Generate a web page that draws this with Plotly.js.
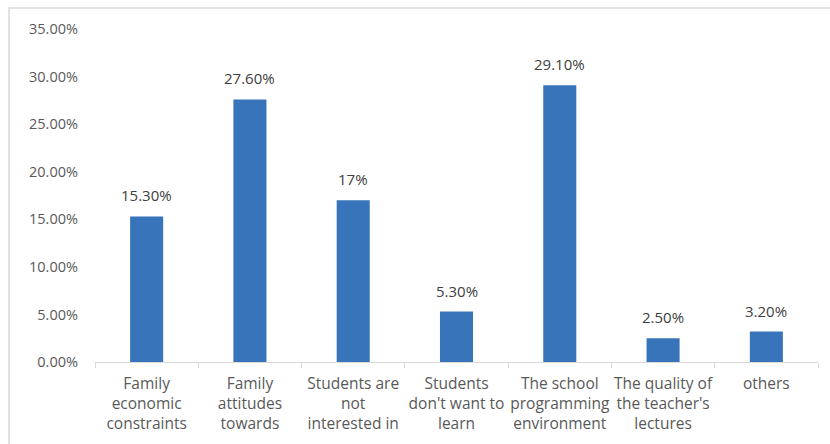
<!DOCTYPE html>
<html>
<head>
<meta charset="utf-8">
<script src="https://cdn.plot.ly/plotly-3.0.1.min.js"></script>
<style>
html,body{margin:0;padding:0;background:#fff;}
#chart{width:830px;height:444px;}
</style>
</head>
<body>
<div id="chart"></div>
<script>
var categories = [
  "Family<br>economic<br>constraints",
  "Family<br>attitudes<br>towards",
  "Students are<br>not<br>interested in",
  "Students<br>don't want to<br>learn",
  "The school<br>programming<br>environment",
  "The quality of<br>the teacher's<br>lectures",
  "others"
];
var values = [15.3, 27.6, 17, 5.3, 29.1, 2.5, 3.2];
var valueLabels = ["15.30%", "27.60%", "17%", "5.30%", "29.10%", "2.50%", "3.20%"];
var yTickValues = [0, 5, 10, 15, 20, 25, 30, 35];
var yTickLabels = ["0.00%", "5.00%", "10.00%", "15.00%", "20.00%", "25.00%", "30.00%", "35.00%"];

var font = "'Open Sans', sans-serif";
var trace = {
  type: "bar",
  x: categories,
  y: values,
  marker: {color: "#3874ba"},
  hoverinfo: "none"
};

var annotations = categories.map(function (c, i) {
  return {
    x: c, y: values[i], xref: "x", yref: "y",
    text: valueLabels[i], showarrow: false,
    yanchor: "bottom", yshift: 9,
    font: {family: font, size: 15, color: "#404040"}
  };
});

var layout = {
  width: 830, height: 444,
  margin: {l: 95, r: 12, t: 29, b: 82},
  paper_bgcolor: "#fff",
  plot_bgcolor: "#fff",
  bargap: 0.68,
  showlegend: false,
  font: {family: font, color: "#595959"},
  xaxis: {
    type: "category",
    showline: true, linecolor: "#d9d9d9", linewidth: 1,
    ticks: "outside", tickson: "boundaries", ticklen: 5, tickcolor: "#d9d9d9",
    ticklabelstandoff: 7, tickangle: 0,
    tickfont: {family: font, size: 15.5, color: "#595959"},
    showgrid: false, zeroline: false, fixedrange: true
  },
  yaxis: {
    range: [0, 35],
    tickvals: yTickValues,
    ticktext: yTickLabels,
    showline: false, showgrid: false, zeroline: false,
    ticks: "", ticklabelstandoff: 16,
    tickfont: {family: font, size: 14.5, color: "#595959"},
    fixedrange: true
  },
  annotations: annotations,
  shapes: [{
    type: "rect", xref: "paper", yref: "paper",
    x0: (9 - 95) / 723, x1: 1.05, y0: -0.3, y1: (362 - 8) / 333,
    line: {color: "#d9d9d9", width: 1.5}, fillcolor: "rgba(0,0,0,0)", layer: "below"
  }]
};

Plotly.newPlot("chart", [trace], layout, {displayModeBar: false, staticPlot: true});
</script>
</body>
</html>
